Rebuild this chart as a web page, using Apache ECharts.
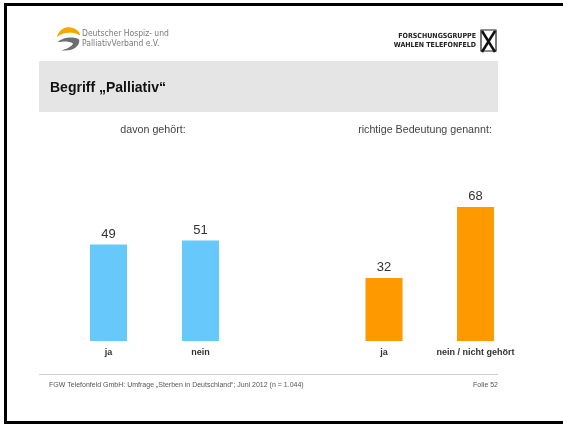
<!DOCTYPE html>
<html><head><meta charset="utf-8">
<script src="https://cdn.jsdelivr.net/npm/echarts@6/dist/echarts.min.js"></script>
<style>html,body{margin:0;padding:0;background:#fff}#c{width:563px;height:424px}</style>
</head><body><div id="c"></div>
<script>
const leftCategories = ['ja', 'nein'];
const leftValues = [49, 51];
const rightCategories = ['ja', 'nein / nicht gehört'];
const rightValues = [32, 68];
const leftSubtitle = 'davon gehört:';
const rightSubtitle = 'richtige Bedeutung genannt:';
const title = 'Begriff „Palliativ“';
const footer = 'FGW Telefonfeld GmbH: Umfrage „Sterben in Deutschland“; Juni 2012 (n = 1.044)';
const slide = 'Folie 52';

const FONT = '"Liberation Sans", Arial, sans-serif';
const NARROW = '"Liberation Sans Narrow", "DejaVu Sans Condensed", sans-serif';
const COND = '"DejaVu Sans Condensed", "Liberation Sans Narrow", sans-serif';
const chart = echarts.init(document.getElementById('c'), null, {renderer: 'canvas'});

function xAx(idx, cats) {
  return {type: 'category', gridIndex: idx, data: cats,
    axisLine: {show: false}, axisTick: {show: false},
    axisLabel: {fontFamily: FONT, fontSize: 9, fontWeight: 'bold', color: '#333', margin: 7, interval: 0}};
}
function yAx(idx) {
  return {type: 'value', gridIndex: idx, min: 0, max: 100, show: false};
}
function bar(idx, vals, color) {
  return {type: 'bar', xAxisIndex: idx, yAxisIndex: idx, data: vals, barWidth: 37,
    itemStyle: {color: color}, animation: false,
    label: {show: true, position: 'top', distance: 4, fontFamily: FONT, fontSize: 13, color: '#333'}};
}

chart.setOption({
  animation: false,
  grid: [
    {left: 62.5, width: 184, top: 144, height: 197},
    {left: 338.25, width: 183, top: 144, height: 197}
  ],
  xAxis: [xAx(0, leftCategories), xAx(1, rightCategories)],
  yAxis: [yAx(0), yAx(1)],
  series: [bar(0, leftValues, '#66c8fb'), bar(1, rightValues, '#ff9900')],
  graphic: [
    {type: 'polyline', shape: {points: [[570, 4.5], [5.5, 4.5], [5.5, 422.5], [570, 422.5]]},
      style: {stroke: '#000', lineWidth: 3, fill: null}, silent: true},
    {type: 'rect', shape: {x: 39, y: 61, width: 459, height: 51}, style: {fill: '#e5e5e5'}, silent: true},
    {type: 'text', x: 50, y: 88, style: {text: title, fontFamily: FONT, fontSize: 14, fontWeight: 'bold', fill: '#111', verticalAlign: 'middle'}},
    {type: 'polygon', shape: {points: [[57, 37], [60, 31], [66, 27.5], [73, 28], [78, 31], [80, 35], [74, 33], [66, 33], [60, 35]], smooth: 0.3}, style: {fill: '#f5a800'}},
    {type: 'polygon', shape: {points: [[58, 42], [64, 38.5], [72, 37.5], [79, 39.5], [78, 45], [72, 49.5], [62, 50.5], [69, 47.5], [73, 43.5], [66, 41.5]], smooth: 0.3}, style: {fill: '#6d6e70'}},
    {type: 'text', x: 82, y: 34, style: {text: 'Deutscher Hospiz- und', fontFamily: NARROW, fontSize: 8.5, fill: '#7a7a7a', verticalAlign: 'middle'}},
    {type: 'text', x: 82, y: 44, style: {text: 'PalliativVerband e.V.', fontFamily: NARROW, fontSize: 8.5, fill: '#7a7a7a', verticalAlign: 'middle'}},
    {type: 'text', x: 476, y: 36, style: {text: 'FORSCHUNGSGRUPPE', fontFamily: COND, fontSize: 7, fontWeight: 'bold', fill: '#222', align: 'right', verticalAlign: 'middle'}},
    {type: 'text', x: 476, y: 45, style: {text: 'WAHLEN TELEFONFELD', fontFamily: COND, fontSize: 7, fontWeight: 'bold', fill: '#222', align: 'right', verticalAlign: 'middle'}},
    {type: 'rect', shape: {x: 481, y: 30, width: 15, height: 21}, style: {fill: null, stroke: '#222', lineWidth: 1.2}},
    {type: 'line', shape: {x1: 482, y1: 31, x2: 495, y2: 52}, style: {stroke: '#111', lineWidth: 2.5}},
    {type: 'line', shape: {x1: 495, y1: 31, x2: 482, y2: 52}, style: {stroke: '#111', lineWidth: 2.5}},
    {type: 'text', x: 153, y: 130, style: {text: leftSubtitle, fontFamily: FONT, fontSize: 10.7, fill: '#444', align: 'center', verticalAlign: 'middle'}},
    {type: 'text', x: 425, y: 130, style: {text: rightSubtitle, fontFamily: FONT, fontSize: 10.7, fill: '#444', align: 'center', verticalAlign: 'middle'}},
    {type: 'line', shape: {x1: 39, y1: 374.5, x2: 498, y2: 374.5}, style: {stroke: '#d0d0d0', lineWidth: 1}},
    {type: 'text', x: 49, y: 385, style: {text: footer, fontFamily: FONT, fontSize: 7, fill: '#555', verticalAlign: 'middle'}},
    {type: 'text', x: 498, y: 385, style: {text: slide, fontFamily: FONT, fontSize: 7, fill: '#555', align: 'right', verticalAlign: 'middle'}}
  ]
});
</script></body></html>
